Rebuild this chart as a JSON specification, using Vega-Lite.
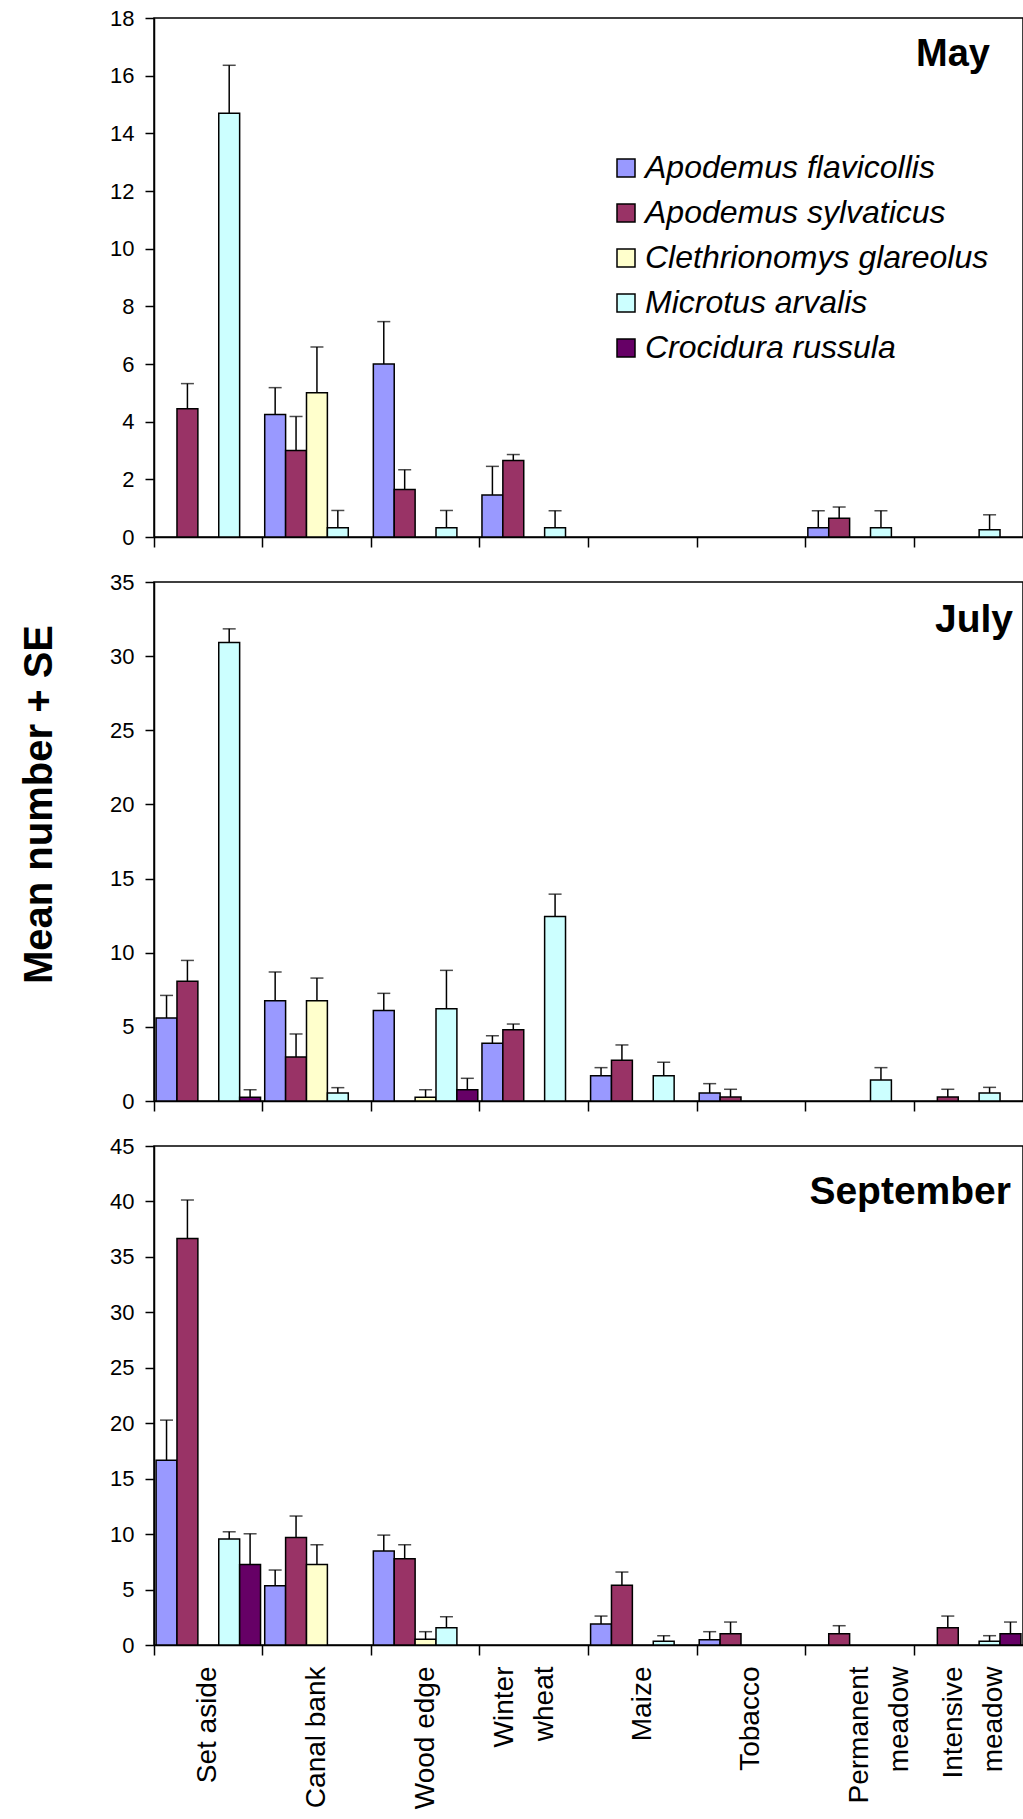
{
  "$schema": "https://vega.github.io/schema/vega-lite/v6.json",
  "background": "white",
  "padding": {"left": 18, "top": 6, "right": 2, "bottom": 0},
  "config": {
    "font": "Liberation Sans",
    "view": {"stroke": "#000", "strokeWidth": 1.5},
    "axis": {"domainColor": "#000", "domainWidth": 1.5, "tickColor": "#000", "tickWidth": 1.5, "labelColor": "#000", "labelFont": "Liberation Sans", "grid": false, "titleColor": "#000", "titleFont": "Liberation Sans"},
    "axisY": {"tickSize": 9, "labelFontSize": 22, "labelPadding": 11},
    "axisX": {"tickSize": 10, "labelFontSize": 28, "labelAngle": 270, "labelPadding": 11, "bandPosition": 0, "labelLineHeight": 40, "labelLimit": 400}
  },
  "datasets": {
    "d": [
      {"month": "May", "habitat": "Set aside", "species": "Apodemus sylvaticus", "mean": 4.45, "upper": 5.32},
      {"month": "May", "habitat": "Set aside", "species": "Microtus arvalis", "mean": 14.7, "upper": 16.36},
      {"month": "May", "habitat": "Canal bank", "species": "Apodemus flavicollis", "mean": 4.25, "upper": 5.18},
      {"month": "May", "habitat": "Canal bank", "species": "Apodemus sylvaticus", "mean": 3.0, "upper": 4.18},
      {"month": "May", "habitat": "Canal bank", "species": "Clethrionomys glareolus", "mean": 5.0, "upper": 6.59},
      {"month": "May", "habitat": "Canal bank", "species": "Microtus arvalis", "mean": 0.32, "upper": 0.92},
      {"month": "May", "habitat": "Wood edge", "species": "Apodemus flavicollis", "mean": 6.0, "upper": 7.47},
      {"month": "May", "habitat": "Wood edge", "species": "Apodemus sylvaticus", "mean": 1.65, "upper": 2.33},
      {"month": "May", "habitat": "Wood edge", "species": "Microtus arvalis", "mean": 0.32, "upper": 0.92},
      {"month": "May", "habitat": "Winter wheat", "species": "Apodemus flavicollis", "mean": 1.46, "upper": 2.45},
      {"month": "May", "habitat": "Winter wheat", "species": "Apodemus sylvaticus", "mean": 2.65, "upper": 2.86},
      {"month": "May", "habitat": "Winter wheat", "species": "Microtus arvalis", "mean": 0.32, "upper": 0.91},
      {"month": "May", "habitat": "Permanent meadow", "species": "Apodemus flavicollis", "mean": 0.32, "upper": 0.91},
      {"month": "May", "habitat": "Permanent meadow", "species": "Apodemus sylvaticus", "mean": 0.65, "upper": 1.04},
      {"month": "May", "habitat": "Permanent meadow", "species": "Microtus arvalis", "mean": 0.32, "upper": 0.91},
      {"month": "May", "habitat": "Intensive meadow", "species": "Microtus arvalis", "mean": 0.25, "upper": 0.77},

      {"month": "July", "habitat": "Set aside", "species": "Apodemus flavicollis", "mean": 5.6, "upper": 7.12},
      {"month": "July", "habitat": "Set aside", "species": "Apodemus sylvaticus", "mean": 8.07, "upper": 9.48},
      {"month": "July", "habitat": "Set aside", "species": "Microtus arvalis", "mean": 30.92, "upper": 31.84},
      {"month": "July", "habitat": "Set aside", "species": "Crocidura russula", "mean": 0.25, "upper": 0.76},
      {"month": "July", "habitat": "Canal bank", "species": "Apodemus flavicollis", "mean": 6.76, "upper": 8.7},
      {"month": "July", "habitat": "Canal bank", "species": "Apodemus sylvaticus", "mean": 2.97, "upper": 4.52},
      {"month": "July", "habitat": "Canal bank", "species": "Clethrionomys glareolus", "mean": 6.76, "upper": 8.29},
      {"month": "July", "habitat": "Canal bank", "species": "Microtus arvalis", "mean": 0.54, "upper": 0.9},
      {"month": "July", "habitat": "Wood edge", "species": "Apodemus flavicollis", "mean": 6.11, "upper": 7.26},
      {"month": "July", "habitat": "Wood edge", "species": "Clethrionomys glareolus", "mean": 0.25, "upper": 0.76},
      {"month": "July", "habitat": "Wood edge", "species": "Microtus arvalis", "mean": 6.22, "upper": 8.81},
      {"month": "July", "habitat": "Wood edge", "species": "Crocidura russula", "mean": 0.76, "upper": 1.53},
      {"month": "July", "habitat": "Winter wheat", "species": "Apodemus flavicollis", "mean": 3.89, "upper": 4.4},
      {"month": "July", "habitat": "Winter wheat", "species": "Apodemus sylvaticus", "mean": 4.81, "upper": 5.19},
      {"month": "July", "habitat": "Winter wheat", "species": "Microtus arvalis", "mean": 12.45, "upper": 13.95},
      {"month": "July", "habitat": "Maize", "species": "Apodemus flavicollis", "mean": 1.71, "upper": 2.25},
      {"month": "July", "habitat": "Maize", "species": "Apodemus sylvaticus", "mean": 2.74, "upper": 3.78},
      {"month": "July", "habitat": "Maize", "species": "Microtus arvalis", "mean": 1.71, "upper": 2.61},
      {"month": "July", "habitat": "Tobacco", "species": "Apodemus flavicollis", "mean": 0.54, "upper": 1.17},
      {"month": "July", "habitat": "Tobacco", "species": "Apodemus sylvaticus", "mean": 0.27, "upper": 0.79},
      {"month": "July", "habitat": "Permanent meadow", "species": "Microtus arvalis", "mean": 1.42, "upper": 2.25},
      {"month": "July", "habitat": "Intensive meadow", "species": "Apodemus sylvaticus", "mean": 0.27, "upper": 0.79},
      {"month": "July", "habitat": "Intensive meadow", "species": "Microtus arvalis", "mean": 0.54, "upper": 0.92},

      {"month": "September", "habitat": "Set aside", "species": "Apodemus flavicollis", "mean": 16.67, "upper": 20.28},
      {"month": "September", "habitat": "Set aside", "species": "Apodemus sylvaticus", "mean": 36.65, "upper": 40.13},
      {"month": "September", "habitat": "Set aside", "species": "Microtus arvalis", "mean": 9.55, "upper": 10.21},
      {"month": "September", "habitat": "Set aside", "species": "Crocidura russula", "mean": 7.27, "upper": 10.03},
      {"month": "September", "habitat": "Canal bank", "species": "Apodemus flavicollis", "mean": 5.35, "upper": 6.76},
      {"month": "September", "habitat": "Canal bank", "species": "Apodemus sylvaticus", "mean": 9.7, "upper": 11.63},
      {"month": "September", "habitat": "Canal bank", "species": "Clethrionomys glareolus", "mean": 7.27, "upper": 9.04},
      {"month": "September", "habitat": "Wood edge", "species": "Apodemus flavicollis", "mean": 8.47, "upper": 9.91},
      {"month": "September", "habitat": "Wood edge", "species": "Apodemus sylvaticus", "mean": 7.78, "upper": 9.04},
      {"month": "September", "habitat": "Wood edge", "species": "Clethrionomys glareolus", "mean": 0.51, "upper": 1.2},
      {"month": "September", "habitat": "Wood edge", "species": "Microtus arvalis", "mean": 1.56, "upper": 2.55},
      {"month": "September", "habitat": "Maize", "species": "Apodemus flavicollis", "mean": 1.89, "upper": 2.61},
      {"month": "September", "habitat": "Maize", "species": "Apodemus sylvaticus", "mean": 5.38, "upper": 6.58},
      {"month": "September", "habitat": "Maize", "species": "Microtus arvalis", "mean": 0.33, "upper": 0.84},
      {"month": "September", "habitat": "Tobacco", "species": "Apodemus flavicollis", "mean": 0.48, "upper": 1.2},
      {"month": "September", "habitat": "Tobacco", "species": "Apodemus sylvaticus", "mean": 1.02, "upper": 2.07},
      {"month": "September", "habitat": "Permanent meadow", "species": "Apodemus sylvaticus", "mean": 1.02, "upper": 1.74},
      {"month": "September", "habitat": "Intensive meadow", "species": "Apodemus sylvaticus", "mean": 1.56, "upper": 2.61},
      {"month": "September", "habitat": "Intensive meadow", "species": "Microtus arvalis", "mean": 0.33, "upper": 0.84},
      {"month": "September", "habitat": "Intensive meadow", "species": "Crocidura russula", "mean": 1.02, "upper": 2.07}
    ]
  },
  "data": {"name": "d"},
  "bounds": "flush",
  "spacing": 45,
  "resolve": {"scale": {"color": "independent", "y": "independent", "x": "independent"}, "legend": {"color": "independent"}},
  "vconcat": [
    {
      "width": 869, "height": 519,
      "transform": [{"filter": "datum.month == 'May'"}],
      "title": {"text": "May", "anchor": "end", "frame": "group", "orient": "top", "offset": -97, "baseline": "alphabetic", "dx": -33, "fontSize": 38, "fontWeight": "bold", "font": "Liberation Sans", "color": "#000"},
      "encoding": {
        "x": {"field": "habitat", "type": "nominal", "sort": ["Set aside", "Canal bank", "Wood edge", "Winter wheat", "Maize", "Tobacco", "Permanent meadow", "Intensive meadow"], "scale": {"domain": ["Set aside", "Canal bank", "Wood edge", "Winter wheat", "Maize", "Tobacco", "Permanent meadow", "Intensive meadow"], "paddingInner": 0, "paddingOuter": 0}, "axis": {"title": null, "labels": false}},
        "xOffset": {"field": "species", "type": "nominal", "scale": {"domain": ["Apodemus flavicollis", "Apodemus sylvaticus", "Clethrionomys glareolus", "Microtus arvalis", "Crocidura russula"], "paddingInner": 0, "paddingOuter": 0.1}}
      },
      "layer": [
        {
          "mark": {"type": "bar", "stroke": "#000", "strokeWidth": 1.5},
          "encoding": {
            "y": {"field": "mean", "type": "quantitative", "scale": {"domain": [0, 18], "nice": false}, "axis": {"title": null, "values": [0, 2, 4, 6, 8, 10, 12, 14, 16, 18]}},
            "color": {"field": "species", "type": "nominal", "scale": {"domain": ["Apodemus flavicollis", "Apodemus sylvaticus", "Clethrionomys glareolus", "Microtus arvalis", "Crocidura russula"], "range": ["#9999FF", "#993366", "#FFFFCC", "#CCFFFF", "#660066"]},
              "legend": {"orient": "none", "legendX": 456, "legendY": 134, "title": null, "symbolType": "square", "symbolSize": 324, "symbolStrokeColor": "#000", "symbolStrokeWidth": 1.5, "labelFontSize": 32, "labelFontStyle": "italic", "labelFont": "Liberation Sans", "labelColor": "#000", "rowPadding": 13, "labelOffset": 3, "padding": 0, "labelLimit": 500}}
          }
        },
        {
          "mark": {"type": "rule", "color": "#000", "strokeWidth": 1.5},
          "encoding": {"y": {"field": "mean", "type": "quantitative", "scale": {"domain": [0, 18], "nice": false}, "axis": {"title": null, "values": [0, 2, 4, 6, 8, 10, 12, 14, 16, 18]}}, "y2": {"field": "upper"}}
        },
        {
          "mark": {"type": "tick", "color": "#000", "thickness": 1.5, "size": 13, "orient": "horizontal"},
          "encoding": {"y": {"field": "upper", "type": "quantitative", "scale": {"domain": [0, 18], "nice": false}, "axis": {"title": null, "values": [0, 2, 4, 6, 8, 10, 12, 14, 16, 18]}}}
        }
      ]
    },
    {
      "width": 869, "height": 519,
      "transform": [{"filter": "datum.month == 'July'"}],
      "title": {"text": "July", "anchor": "end", "frame": "group", "orient": "top", "offset": -100, "baseline": "alphabetic", "dx": -10, "fontSize": 39, "fontWeight": "bold", "font": "Liberation Sans", "color": "#000"},
      "encoding": {
        "x": {"field": "habitat", "type": "nominal", "sort": ["Set aside", "Canal bank", "Wood edge", "Winter wheat", "Maize", "Tobacco", "Permanent meadow", "Intensive meadow"], "scale": {"domain": ["Set aside", "Canal bank", "Wood edge", "Winter wheat", "Maize", "Tobacco", "Permanent meadow", "Intensive meadow"], "paddingInner": 0, "paddingOuter": 0}, "axis": {"title": null, "labels": false}},
        "xOffset": {"field": "species", "type": "nominal", "scale": {"domain": ["Apodemus flavicollis", "Apodemus sylvaticus", "Clethrionomys glareolus", "Microtus arvalis", "Crocidura russula"], "paddingInner": 0, "paddingOuter": 0.1}}
      },
      "layer": [
        {
          "mark": {"type": "bar", "stroke": "#000", "strokeWidth": 1.5},
          "encoding": {
            "y": {"field": "mean", "type": "quantitative", "scale": {"domain": [0, 35], "nice": false}, "axis": {"title": "Mean number + SE", "values": [0, 5, 10, 15, 20, 25, 30, 35], "titleFontSize": 40, "titleFontWeight": "bold", "titleX": -103, "titleY": 222, "titleBaseline": "alphabetic", "titleAngle": 270, "titleAlign": "center"}},
            "color": {"field": "species", "type": "nominal", "scale": {"domain": ["Apodemus flavicollis", "Apodemus sylvaticus", "Clethrionomys glareolus", "Microtus arvalis", "Crocidura russula"], "range": ["#9999FF", "#993366", "#FFFFCC", "#CCFFFF", "#660066"]}, "legend": null}
          }
        },
        {
          "mark": {"type": "rule", "color": "#000", "strokeWidth": 1.5},
          "encoding": {"y": {"field": "mean", "type": "quantitative", "scale": {"domain": [0, 35], "nice": false}, "axis": {"title": "Mean number + SE", "values": [0, 5, 10, 15, 20, 25, 30, 35], "titleFontSize": 40, "titleFontWeight": "bold", "titleX": -103, "titleY": 222, "titleBaseline": "alphabetic", "titleAngle": 270, "titleAlign": "center"}}, "y2": {"field": "upper"}}
        },
        {
          "mark": {"type": "tick", "color": "#000", "thickness": 1.5, "size": 13, "orient": "horizontal"},
          "encoding": {"y": {"field": "upper", "type": "quantitative", "scale": {"domain": [0, 35], "nice": false}, "axis": {"title": "Mean number + SE", "values": [0, 5, 10, 15, 20, 25, 30, 35], "titleFontSize": 40, "titleFontWeight": "bold", "titleX": -103, "titleY": 222, "titleBaseline": "alphabetic", "titleAngle": 270, "titleAlign": "center"}}}
        }
      ]
    },
    {
      "width": 869, "height": 499,
      "transform": [{"filter": "datum.month == 'September'"}],
      "title": {"text": "September", "anchor": "end", "frame": "group", "orient": "top", "offset": -108, "baseline": "alphabetic", "dx": -12, "fontSize": 39, "fontWeight": "bold", "font": "Liberation Sans", "color": "#000"},
      "encoding": {
        "x": {"field": "habitat", "type": "nominal", "sort": ["Set aside", "Canal bank", "Wood edge", "Winter wheat", "Maize", "Tobacco", "Permanent meadow", "Intensive meadow"], "scale": {"domain": ["Set aside", "Canal bank", "Wood edge", "Winter wheat", "Maize", "Tobacco", "Permanent meadow", "Intensive meadow"], "paddingInner": 0, "paddingOuter": 0}, "axis": {"title": null, "labelExpr": "datum.label == 'Winter wheat' || datum.label == 'Permanent meadow' || datum.label == 'Intensive meadow' ? split(datum.label, ' ') : datum.label", "labelOffset": {"condition": [{"test": "datum.value == 'Winter wheat'", "value": -29}, {"test": "datum.value == 'Intensive meadow'", "value": -15}], "value": 0}}},
        "xOffset": {"field": "species", "type": "nominal", "scale": {"domain": ["Apodemus flavicollis", "Apodemus sylvaticus", "Clethrionomys glareolus", "Microtus arvalis", "Crocidura russula"], "paddingInner": 0, "paddingOuter": 0.1}}
      },
      "layer": [
        {
          "mark": {"type": "bar", "stroke": "#000", "strokeWidth": 1.5},
          "encoding": {
            "y": {"field": "mean", "type": "quantitative", "scale": {"domain": [0, 45], "nice": false}, "axis": {"title": null, "values": [0, 5, 10, 15, 20, 25, 30, 35, 40, 45]}},
            "color": {"field": "species", "type": "nominal", "scale": {"domain": ["Apodemus flavicollis", "Apodemus sylvaticus", "Clethrionomys glareolus", "Microtus arvalis", "Crocidura russula"], "range": ["#9999FF", "#993366", "#FFFFCC", "#CCFFFF", "#660066"]}, "legend": null}
          }
        },
        {
          "mark": {"type": "rule", "color": "#000", "strokeWidth": 1.5},
          "encoding": {"y": {"field": "mean", "type": "quantitative", "scale": {"domain": [0, 45], "nice": false}, "axis": {"title": null, "values": [0, 5, 10, 15, 20, 25, 30, 35, 40, 45]}}, "y2": {"field": "upper"}}
        },
        {
          "mark": {"type": "tick", "color": "#000", "thickness": 1.5, "size": 13, "orient": "horizontal"},
          "encoding": {"y": {"field": "upper", "type": "quantitative", "scale": {"domain": [0, 45], "nice": false}, "axis": {"title": null, "values": [0, 5, 10, 15, 20, 25, 30, 35, 40, 45]}}}
        }
      ]
    }
  ]
}
